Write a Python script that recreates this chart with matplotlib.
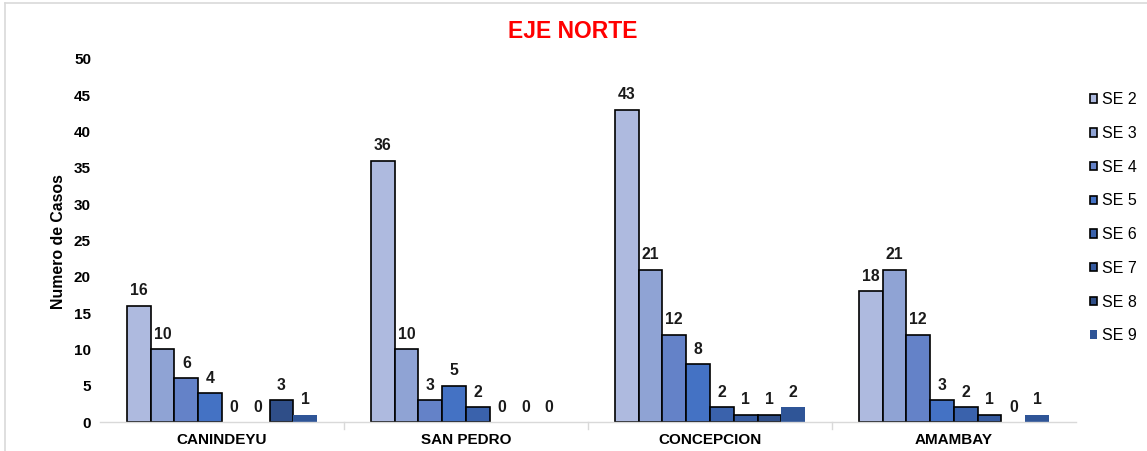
import matplotlib
matplotlib.use("Agg")
import matplotlib.pyplot as plt
import numpy as np
from matplotlib.lines import Line2D
from matplotlib.patches import Patch

plt.rcParams['font.family'] = ['Liberation Sans', 'DejaVu Sans']

categories = ["CANINDEYU", "SAN PEDRO", "CONCEPCION", "AMAMBAY"]
series_names = ["SE 2", "SE 3", "SE 4", "SE 5", "SE 6", "SE 7", "SE 8", "SE 9"]
se2 = [16, 36, 43, 18]
se3 = [10, 10, 21, 21]
se4 = [6, 3, 12, 12]
se5 = [4, 5, 8, 3]
se6 = [0, 2, 2, 2]
se7 = [0, 0, 1, 1]
se8 = [3, 0, 1, 0]
se9 = [1, 0, 2, 1]
series = [se2, se3, se4, se5, se6, se7, se8, se9]
colors = ["#AEBADF", "#8FA3D4", "#6482C8", "#4472C4", "#3A62AC", "#355A9F", "#2F4E88", "#2F5597"]
edges = ["black"] * 7 + ["none"]

fig = plt.figure(figsize=(11.47, 4.51), dpi=100)
ax = fig.add_axes([0.0872, 0.0643, 0.8508, 0.8049])

x = np.arange(len(categories))
w = 0.0975
for i, (vals, c, ec) in enumerate(zip(series, colors, edges)):
    pos = x + (i - 3.5) * w
    ecs = [ec if v > 0 else 'none' for v in vals]
    ax.bar(pos, vals, width=w, color=c, edgecolor=ecs, linewidth=1.2, label=series_names[i], zorder=2)
    for p, v in zip(pos, vals):
        ax.annotate(str(v), (p, v), xytext=(0, 7.5), textcoords='offset points',
                    ha='center', va='baseline', fontsize=11.3, fontweight='bold', color='#1a1a1a')

ax.set_xlim(-0.5, 3.5)
ax.set_ylim(0, 50)
ax.set_yticks(range(0, 51, 5))
ax.tick_params(axis='y', length=0, labelsize=11, pad=6.5)
for lb in ax.get_yticklabels():
    lb.set_fontweight('bold')
ax.set_xticks(x)
ax.set_xticklabels(categories, fontsize=11, fontweight='bold')
ax.tick_params(axis='x', length=0, pad=8)
for b in [0.5, 1.5, 2.5]:
    ax.plot([b, b], [0, -0.9], color='#D9D9D9', lw=1, clip_on=False)
for s in ['top', 'right', 'left']:
    ax.spines[s].set_visible(False)
ax.spines['bottom'].set_color('#D9D9D9')
ax.spines['bottom'].set_linewidth(1)

fig.text(0.0506, 0.4645, "Numero de Casos", fontsize=11.4, fontweight='bold', rotation=90,
         ha='center', va='center')
fig.text(0.4991, 0.931, "EJE NORTE", color='#FF0000', fontsize=16.5, fontweight='bold',
         ha='center', va='center')

handles = [Patch(facecolor=c, edgecolor=ec, linewidth=1.2) for c, ec in zip(colors, edges)]
fig.legend(handles, series_names, loc='center left', bbox_to_anchor=(0.9503, 0.517), frameon=False,
           fontsize=11.5, handlelength=0.45, handleheight=0.45, handletextpad=0.3,
           labelspacing=1.17, borderpad=0, borderaxespad=0)

# chart frame lines (screenshot border)
fig.add_artist(Line2D([0.0045, 1], [0.993, 0.993], transform=fig.transFigure, color='#D9D9D9', lw=1.2))
fig.add_artist(Line2D([0.0045, 0.0045], [0, 0.993], transform=fig.transFigure, color='#D9D9D9', lw=1.2))

fig.savefig("out.png", dpi=100)
